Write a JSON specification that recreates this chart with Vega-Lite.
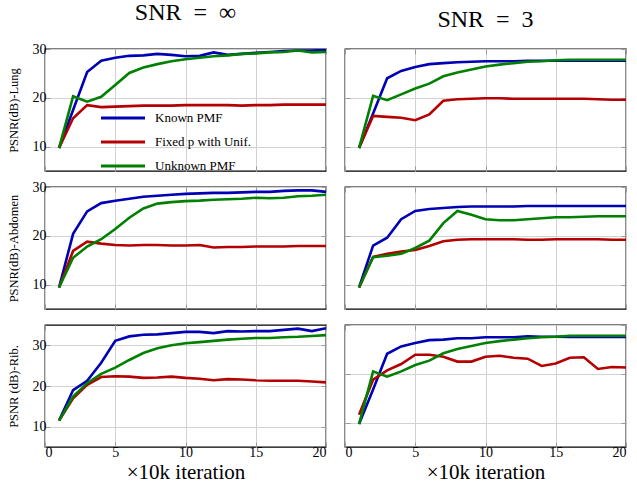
{
  "$schema": "https://vega.github.io/schema/vega-lite/v6.json",
  "padding": {"left": 6, "top": 0, "right": 0, "bottom": 0},
  "data": {"values": [
    {"p":1,"x":1,"K":9.7,"F":9.7,"U":9.7},
    {"p":1,"x":2,"K":17.5,"F":15.8,"U":20.3},
    {"p":1,"x":3,"K":25.3,"F":18.5,"U":19.2},
    {"p":1,"x":4,"K":27.6,"F":18.1,"U":20.2},
    {"p":1,"x":5,"K":28.2,"F":18.2,"U":22.6},
    {"p":1,"x":6,"K":28.6,"F":18.3,"U":25.1},
    {"p":1,"x":7,"K":28.7,"F":18.4,"U":26.2},
    {"p":1,"x":8,"K":29.0,"F":18.4,"U":26.9},
    {"p":1,"x":9,"K":28.8,"F":18.4,"U":27.5},
    {"p":1,"x":10,"K":28.5,"F":18.5,"U":27.9},
    {"p":1,"x":11,"K":28.6,"F":18.5,"U":28.2},
    {"p":1,"x":12,"K":29.3,"F":18.5,"U":28.5},
    {"p":1,"x":13,"K":28.8,"F":18.5,"U":28.7},
    {"p":1,"x":14,"K":29.0,"F":18.4,"U":29.0},
    {"p":1,"x":15,"K":29.2,"F":18.5,"U":29.1},
    {"p":1,"x":16,"K":29.4,"F":18.5,"U":29.3},
    {"p":1,"x":17,"K":29.6,"F":18.6,"U":29.4},
    {"p":1,"x":18,"K":29.7,"F":18.6,"U":29.7},
    {"p":1,"x":19,"K":29.7,"F":18.6,"U":29.3},
    {"p":1,"x":20,"K":29.8,"F":18.6,"U":29.4},

    {"p":2,"x":1,"K":9.7,"F":9.7,"U":9.7},
    {"p":2,"x":2,"K":16.8,"F":16.3,"U":20.4},
    {"p":2,"x":3,"K":24.0,"F":16.1,"U":19.5},
    {"p":2,"x":4,"K":25.5,"F":15.9,"U":20.7},
    {"p":2,"x":5,"K":26.3,"F":15.4,"U":21.9},
    {"p":2,"x":6,"K":26.9,"F":16.6,"U":22.9},
    {"p":2,"x":7,"K":27.1,"F":19.4,"U":24.4},
    {"p":2,"x":8,"K":27.3,"F":19.7,"U":25.2},
    {"p":2,"x":9,"K":27.4,"F":19.8,"U":25.8},
    {"p":2,"x":10,"K":27.5,"F":19.9,"U":26.4},
    {"p":2,"x":11,"K":27.5,"F":19.9,"U":26.8},
    {"p":2,"x":12,"K":27.5,"F":19.8,"U":27.1},
    {"p":2,"x":13,"K":27.6,"F":19.8,"U":27.4},
    {"p":2,"x":14,"K":27.6,"F":19.8,"U":27.5},
    {"p":2,"x":15,"K":27.6,"F":19.8,"U":27.7},
    {"p":2,"x":16,"K":27.6,"F":19.8,"U":27.8},
    {"p":2,"x":17,"K":27.6,"F":19.8,"U":27.8},
    {"p":2,"x":18,"K":27.6,"F":19.7,"U":27.8},
    {"p":2,"x":19,"K":27.6,"F":19.6,"U":27.8},
    {"p":2,"x":20,"K":27.6,"F":19.6,"U":27.8},

    {"p":3,"x":1,"K":9.4,"F":9.4,"U":9.4},
    {"p":3,"x":2,"K":20.4,"F":16.9,"U":15.5},
    {"p":3,"x":3,"K":25.0,"F":18.8,"U":17.8},
    {"p":3,"x":4,"K":26.7,"F":18.4,"U":19.3},
    {"p":3,"x":5,"K":27.2,"F":18.1,"U":21.4},
    {"p":3,"x":6,"K":27.6,"F":18.0,"U":23.7},
    {"p":3,"x":7,"K":28.0,"F":18.1,"U":25.6},
    {"p":3,"x":8,"K":28.2,"F":18.1,"U":26.6},
    {"p":3,"x":9,"K":28.4,"F":18.0,"U":26.9},
    {"p":3,"x":10,"K":28.6,"F":18.0,"U":27.1},
    {"p":3,"x":11,"K":28.7,"F":18.1,"U":27.2},
    {"p":3,"x":12,"K":28.8,"F":17.6,"U":27.4},
    {"p":3,"x":13,"K":28.8,"F":17.7,"U":27.5},
    {"p":3,"x":14,"K":28.9,"F":17.7,"U":27.6},
    {"p":3,"x":15,"K":29.0,"F":17.8,"U":27.8},
    {"p":3,"x":16,"K":29.0,"F":17.8,"U":27.7},
    {"p":3,"x":17,"K":29.2,"F":17.8,"U":27.8},
    {"p":3,"x":18,"K":29.3,"F":17.9,"U":28.1},
    {"p":3,"x":19,"K":29.3,"F":17.9,"U":28.2},
    {"p":3,"x":20,"K":29.0,"F":17.9,"U":28.4},

    {"p":4,"x":1,"K":9.4,"F":9.4,"U":9.4},
    {"p":4,"x":2,"K":18.0,"F":15.7,"U":15.6},
    {"p":4,"x":3,"K":19.6,"F":16.3,"U":15.9},
    {"p":4,"x":4,"K":23.4,"F":16.8,"U":16.3},
    {"p":4,"x":5,"K":25.1,"F":17.1,"U":17.5},
    {"p":4,"x":6,"K":25.5,"F":17.9,"U":19.0},
    {"p":4,"x":7,"K":25.7,"F":18.9,"U":22.6},
    {"p":4,"x":8,"K":25.9,"F":19.2,"U":25.1},
    {"p":4,"x":9,"K":26.0,"F":19.3,"U":24.3},
    {"p":4,"x":10,"K":26.0,"F":19.3,"U":23.4},
    {"p":4,"x":11,"K":26.0,"F":19.3,"U":23.2},
    {"p":4,"x":12,"K":26.0,"F":19.3,"U":23.2},
    {"p":4,"x":13,"K":26.1,"F":19.2,"U":23.4},
    {"p":4,"x":14,"K":26.1,"F":19.2,"U":23.6},
    {"p":4,"x":15,"K":26.1,"F":19.3,"U":23.8},
    {"p":4,"x":16,"K":26.1,"F":19.3,"U":23.8},
    {"p":4,"x":17,"K":26.1,"F":19.3,"U":23.9},
    {"p":4,"x":18,"K":26.1,"F":19.3,"U":24.0},
    {"p":4,"x":19,"K":26.1,"F":19.2,"U":24.0},
    {"p":4,"x":20,"K":26.1,"F":19.2,"U":24.0},

    {"p":5,"x":1,"K":11.5,"F":11.5,"U":11.5},
    {"p":5,"x":2,"K":19.0,"F":17.0,"U":17.4},
    {"p":5,"x":3,"K":21.3,"F":20.3,"U":20.7},
    {"p":5,"x":4,"K":25.7,"F":22.2,"U":23.0},
    {"p":5,"x":5,"K":31.1,"F":22.4,"U":24.5},
    {"p":5,"x":6,"K":32.2,"F":22.3,"U":26.4},
    {"p":5,"x":7,"K":32.6,"F":22.0,"U":28.1},
    {"p":5,"x":8,"K":32.7,"F":22.1,"U":29.3},
    {"p":5,"x":9,"K":33.0,"F":22.3,"U":30.0},
    {"p":5,"x":10,"K":33.3,"F":22.0,"U":30.5},
    {"p":5,"x":11,"K":33.3,"F":21.8,"U":30.8},
    {"p":5,"x":12,"K":33.0,"F":21.4,"U":31.1},
    {"p":5,"x":13,"K":33.5,"F":21.7,"U":31.4},
    {"p":5,"x":14,"K":33.4,"F":21.6,"U":31.6},
    {"p":5,"x":15,"K":33.5,"F":21.4,"U":31.8},
    {"p":5,"x":16,"K":33.5,"F":21.3,"U":31.8},
    {"p":5,"x":17,"K":33.8,"F":21.3,"U":32.0},
    {"p":5,"x":18,"K":34.1,"F":21.3,"U":32.1},
    {"p":5,"x":19,"K":33.5,"F":21.1,"U":32.3},
    {"p":5,"x":20,"K":34.2,"F":20.9,"U":32.5},

    {"p":6,"x":1,"K":9.7,"F":11.6,"U":9.7},
    {"p":6,"x":2,"K":16.8,"F":18.8,"U":20.5},
    {"p":6,"x":3,"K":24.1,"F":20.7,"U":19.4},
    {"p":6,"x":4,"K":25.6,"F":22.0,"U":20.5},
    {"p":6,"x":5,"K":26.3,"F":23.9,"U":21.8},
    {"p":6,"x":6,"K":26.9,"F":23.9,"U":22.7},
    {"p":6,"x":7,"K":27.0,"F":23.5,"U":24.2},
    {"p":6,"x":8,"K":27.3,"F":22.5,"U":25.1},
    {"p":6,"x":9,"K":27.3,"F":22.5,"U":25.7},
    {"p":6,"x":10,"K":27.5,"F":23.5,"U":26.3},
    {"p":6,"x":11,"K":27.5,"F":23.7,"U":26.7},
    {"p":6,"x":12,"K":27.5,"F":23.3,"U":27.0},
    {"p":6,"x":13,"K":27.7,"F":23.1,"U":27.3},
    {"p":6,"x":14,"K":27.6,"F":21.6,"U":27.5},
    {"p":6,"x":15,"K":27.6,"F":22.1,"U":27.6},
    {"p":6,"x":16,"K":27.55,"F":23.3,"U":27.8},
    {"p":6,"x":17,"K":27.55,"F":23.4,"U":27.8},
    {"p":6,"x":18,"K":27.55,"F":21.0,"U":27.8},
    {"p":6,"x":19,"K":27.55,"F":21.4,"U":27.8},
    {"p":6,"x":20,"K":27.55,"F":21.3,"U":27.8}
  ]},
  "columns": 2,
  "bounds": "flush",
  "spacing": {"row": 16, "column": 19},
  "resolve": {
    "scale": {"x": "independent", "y": "independent", "color": "independent"},
    "legend": {"color": "independent"},
    "axis": {"x": "independent", "y": "independent"}
  },
  "concat": [
    {
      "width": 281, "height": 122,
      "title": {"text": "SNR\u2002=\u2002∞"},
      "transform": [{"filter": "datum.p == 1"}, {"fold": ["K", "F", "U"], "as": ["m", "v"]}],
      "resolve": {"axis": {"x": "independent", "y": "independent"}},
      "layer": [
        {
          "mark": {"type": "line", "strokeWidth": 2.6, "clip": true},
          "encoding": {
            "x": {"field": "x", "type": "quantitative", "scale": {"domain": [0, 20]}, "axis": {"values": [0, 5, 10, 15, 20], "labels": false, "title": null}},
            "y": {"field": "v", "type": "quantitative", "scale": {"domain": [5, 30]}, "axis": {"values": [10, 20, 30], "title": "PSNR(dB)-Lung"}},
            "color": {"field": "m", "type": "nominal", "sort": null,
              "scale": {"domain": ["K", "F", "U"], "range": ["#0000b4", "#b40000", "#008000"]},
              "legend": {
                "orient": "none", "legendX": 71, "legendY": 62, "title": null,
                "symbolType": "M-4,0H4", "symbolSize": 121, "symbolStrokeWidth": 3,
                "labelFont": "Liberation Serif", "labelFontSize": 13, "labelColor": "black",
                "labelOffset": 25, "rowPadding": 10, "padding": 0,
                "labelExpr": "datum.label == 'K' ? 'Known PMF' : datum.label == 'F' ? 'Fixed p with Unif.' : 'Unknown PMF'"
              }}
          }
        },
        {
          "mark": {"type": "line", "opacity": 0},
          "encoding": {
            "x": {"field": "x", "type": "quantitative", "scale": {"domain": [0, 20]}, "axis": {"orient": "top", "values": [0, 5, 10, 15, 20], "labels": false, "grid": false, "title": null}},
            "y": {"field": "v", "type": "quantitative", "scale": {"domain": [5, 30]}, "axis": {"orient": "right", "values": [10, 20, 30], "labels": false, "grid": false, "title": null}}
          }
        }
      ]
    },
    {
      "width": 281, "height": 122,
      "title": {"text": "SNR\u2002=\u20023"},
      "transform": [{"filter": "datum.p == 2"}, {"fold": ["K", "F", "U"], "as": ["m", "v"]}],
      "resolve": {"axis": {"x": "independent", "y": "independent"}},
      "layer": [
        {
          "mark": {"type": "line", "strokeWidth": 2.6, "clip": true},
          "encoding": {
            "x": {"field": "x", "type": "quantitative", "scale": {"domain": [0, 20]}, "axis": {"values": [0, 5, 10, 15, 20], "labels": false, "title": null}},
            "y": {"field": "v", "type": "quantitative", "scale": {"domain": [5, 30]}, "axis": {"values": [10, 20, 30], "labels": false, "title": null}},
            "color": {"field": "m", "type": "nominal", "sort": null, "scale": {"domain": ["K", "F", "U"], "range": ["#0000b4", "#b40000", "#008000"]}, "legend": null}
          }
        },
        {
          "mark": {"type": "line", "opacity": 0},
          "encoding": {
            "x": {"field": "x", "type": "quantitative", "scale": {"domain": [0, 20]}, "axis": {"orient": "top", "values": [0, 5, 10, 15, 20], "labels": false, "grid": false, "title": null}},
            "y": {"field": "v", "type": "quantitative", "scale": {"domain": [5, 30]}, "axis": {"orient": "right", "values": [10, 20, 30], "labels": false, "grid": false, "title": null}}
          }
        }
      ]
    },
    {
      "width": 281, "height": 122,
      "transform": [{"filter": "datum.p == 3"}, {"fold": ["K", "F", "U"], "as": ["m", "v"]}],
      "resolve": {"axis": {"x": "independent", "y": "independent"}},
      "layer": [
        {
          "mark": {"type": "line", "strokeWidth": 2.6, "clip": true},
          "encoding": {
            "x": {"field": "x", "type": "quantitative", "scale": {"domain": [0, 20]}, "axis": {"values": [0, 5, 10, 15, 20], "labels": false, "title": null}},
            "y": {"field": "v", "type": "quantitative", "scale": {"domain": [5, 30]}, "axis": {"values": [10, 20, 30], "title": "PSNR(dB)-Abdomen"}},
            "color": {"field": "m", "type": "nominal", "sort": null, "scale": {"domain": ["K", "F", "U"], "range": ["#0000b4", "#b40000", "#008000"]}, "legend": null}
          }
        },
        {
          "mark": {"type": "line", "opacity": 0},
          "encoding": {
            "x": {"field": "x", "type": "quantitative", "scale": {"domain": [0, 20]}, "axis": {"orient": "top", "values": [0, 5, 10, 15, 20], "labels": false, "grid": false, "title": null}},
            "y": {"field": "v", "type": "quantitative", "scale": {"domain": [5, 30]}, "axis": {"orient": "right", "values": [10, 20, 30], "labels": false, "grid": false, "title": null}}
          }
        }
      ]
    },
    {
      "width": 281, "height": 122,
      "transform": [{"filter": "datum.p == 4"}, {"fold": ["K", "F", "U"], "as": ["m", "v"]}],
      "resolve": {"axis": {"x": "independent", "y": "independent"}},
      "layer": [
        {
          "mark": {"type": "line", "strokeWidth": 2.6, "clip": true},
          "encoding": {
            "x": {"field": "x", "type": "quantitative", "scale": {"domain": [0, 20]}, "axis": {"values": [0, 5, 10, 15, 20], "labels": false, "title": null}},
            "y": {"field": "v", "type": "quantitative", "scale": {"domain": [5, 30]}, "axis": {"values": [10, 20, 30], "labels": false, "title": null}},
            "color": {"field": "m", "type": "nominal", "sort": null, "scale": {"domain": ["K", "F", "U"], "range": ["#0000b4", "#b40000", "#008000"]}, "legend": null}
          }
        },
        {
          "mark": {"type": "line", "opacity": 0},
          "encoding": {
            "x": {"field": "x", "type": "quantitative", "scale": {"domain": [0, 20]}, "axis": {"orient": "top", "values": [0, 5, 10, 15, 20], "labels": false, "grid": false, "title": null}},
            "y": {"field": "v", "type": "quantitative", "scale": {"domain": [5, 30]}, "axis": {"orient": "right", "values": [10, 20, 30], "labels": false, "grid": false, "title": null}}
          }
        }
      ]
    },
    {
      "width": 281, "height": 122,
      "transform": [{"filter": "datum.p == 5"}, {"fold": ["K", "F", "U"], "as": ["m", "v"]}],
      "resolve": {"axis": {"x": "independent", "y": "independent"}},
      "layer": [
        {
          "mark": {"type": "line", "strokeWidth": 2.6, "clip": true},
          "encoding": {
            "x": {"field": "x", "type": "quantitative", "scale": {"domain": [0, 20]}, "axis": {"values": [0, 5, 10, 15, 20], "title": "×10k iteration"}},
            "y": {"field": "v", "type": "quantitative", "scale": {"domain": [5, 35]}, "axis": {"values": [10, 20, 30], "title": "PSNR (dB)-Rib."}},
            "color": {"field": "m", "type": "nominal", "sort": null, "scale": {"domain": ["K", "F", "U"], "range": ["#0000b4", "#b40000", "#008000"]}, "legend": null}
          }
        },
        {
          "mark": {"type": "line", "opacity": 0},
          "encoding": {
            "x": {"field": "x", "type": "quantitative", "scale": {"domain": [0, 20]}, "axis": {"orient": "top", "values": [0, 5, 10, 15, 20], "labels": false, "grid": false, "title": null}},
            "y": {"field": "v", "type": "quantitative", "scale": {"domain": [5, 35]}, "axis": {"orient": "right", "values": [10, 20, 30], "labels": false, "grid": false, "title": null}}
          }
        }
      ]
    },
    {
      "width": 281, "height": 122,
      "transform": [{"filter": "datum.p == 6"}, {"fold": ["K", "F", "U"], "as": ["m", "v"]}],
      "resolve": {"axis": {"x": "independent", "y": "independent"}},
      "layer": [
        {
          "mark": {"type": "line", "strokeWidth": 2.6, "clip": true},
          "encoding": {
            "x": {"field": "x", "type": "quantitative", "scale": {"domain": [0, 20]}, "axis": {"values": [0, 5, 10, 15, 20], "title": "×10k iteration"}},
            "y": {"field": "v", "type": "quantitative", "scale": {"domain": [5, 30]}, "axis": {"values": [10, 20, 30], "labels": false, "title": null}},
            "color": {"field": "m", "type": "nominal", "sort": null, "scale": {"domain": ["K", "F", "U"], "range": ["#0000b4", "#b40000", "#008000"]}, "legend": null}
          }
        },
        {
          "mark": {"type": "line", "opacity": 0},
          "encoding": {
            "x": {"field": "x", "type": "quantitative", "scale": {"domain": [0, 20]}, "axis": {"orient": "top", "values": [0, 5, 10, 15, 20], "labels": false, "grid": false, "title": null}},
            "y": {"field": "v", "type": "quantitative", "scale": {"domain": [5, 30]}, "axis": {"orient": "right", "values": [10, 20, 30], "labels": false, "grid": false, "title": null}}
          }
        }
      ]
    }
  ],
  "config": {
    "background": "white",
    "view": {"stroke": "black", "strokeWidth": 1.3},
    "title": {"font": "Liberation Serif", "fontSize": 24, "fontWeight": "normal", "color": "black", "anchor": "middle", "baseline": "alphabetic", "offset": 17},
    "axis": {
      "domain": false,
      "grid": true, "gridColor": "#d2d2d2", "gridWidth": 1,
      "tickSize": -5, "tickColor": "#9a9a9a", "tickWidth": 1,
      "labelFont": "Liberation Serif", "labelFontSize": 14, "labelColor": "black", "labelPadding": 4,
      "titleFont": "Liberation Serif", "titleFontWeight": "normal", "titleColor": "black"
    },
    "axisY": {"titleFontSize": 12.5, "titlePadding": 12},
    "axisX": {"titleFontSize": 21, "titlePadding": 2, "labelPadding": 3}
  }
}
